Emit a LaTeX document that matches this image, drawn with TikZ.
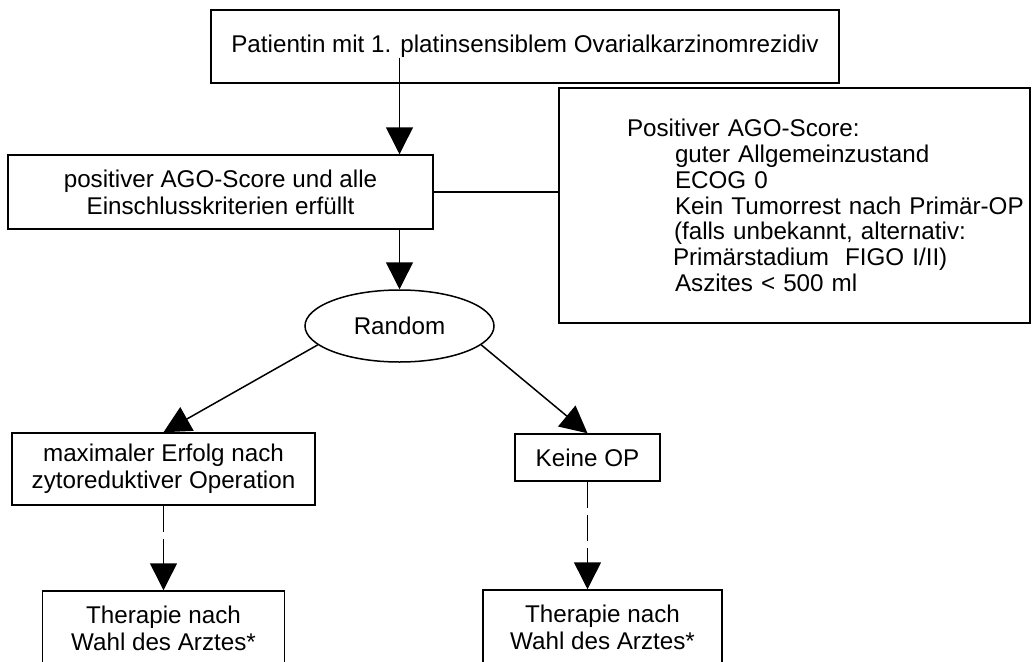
\documentclass[tikz,border=0pt]{standalone}
\usepackage{fontspec}
\setmainfont{Liberation Sans}
\usetikzlibrary{arrows.meta,shapes.geometric}

\begin{document}
\begin{tikzpicture}[
    x=1pt, y=1pt,
    line width=1.5pt,
    font=\fontsize{24.2}{27}\selectfont,
    box/.style={rectangle, draw, inner sep=0pt, align=center},
    criteria/.style={box, align=left, text width=471pt, font=\fontsize{24.2}{25.8}\selectfont},
    random/.style={ellipse, draw, inner sep=0pt, minimum width=189pt, minimum height=72pt},
    arrow/.style={-{Triangle[length=27pt,width=27pt]}},
    dasharrow/.style={arrow, dash pattern=on 26pt off 7pt}
]
\clip (0,0) rectangle (1032,-661);

% Eingang
\node[box, minimum width=628pt, minimum height=73pt] (patient) at (525,-46.5) {Patientin mit 1. platinsensiblem Ovarialkarzinomrezidiv};
\node[box, minimum width=425pt, minimum height=74pt] (eligible) at (220.5,-192) {positiver AGO-Score und alle\\Einschlusskriterien erfüllt};
\node[criteria, minimum height=235pt] (ago) at (794.5,-205.5) {%
    \hspace*{68pt}Positiver AGO-Score:\\
    \hspace*{116pt}guter Allgemeinzustand\\
    \hspace*{116pt}ECOG 0\\
    \hspace*{116pt}Kein Tumorrest nach Primär-OP\\
    \hspace*{115pt}(falls unbekannt, alternativ:\\
    \hspace*{114pt}Primärstadium\ \ FIGO I/II)\\
    \hspace*{116pt}Aszites < 500 ml};

% Randomisierung
\node[random] (rnd) at (399.5,-326) {Random};

% Arme
\node[box, minimum width=303pt, minimum height=72pt] (maxop) at (163.5,-469) {maximaler Erfolg nach\\zytoreduktiver Operation};
\node[box, minimum width=145pt, minimum height=47pt] (noop) at (587.5,-457.5) {Keine OP};
\node[box, minimum width=242pt, minimum height=74pt] (therleft) at (163.5,-628) {Therapie nach\\Wahl des Arztes*};
\node[box, minimum width=239pt, minimum height=74pt] (therright) at (602.5,-627) {Therapie nach\\Wahl des Arztes*};

% Verbindungen
\draw[arrow] ([yshift=26pt]patient.south -| rnd.north) -- (rnd.north |- eligible.north);
\draw (eligible.east) -- (eligible.east -| ago.west);
\draw[arrow] (eligible.south -| rnd.north) -- (rnd.north);
\draw[arrow] (rnd.-167) -- (maxop.north);
\draw[arrow] (rnd.-13) -- (noop.north);
\draw[dasharrow] (maxop.south) -- (therleft.north);
\draw[dasharrow] (noop.south) -- (noop.south |- therright.north);

\end{tikzpicture}
\end{document}
